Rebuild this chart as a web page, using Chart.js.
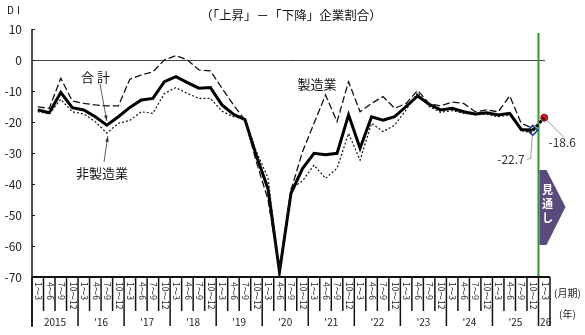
<!DOCTYPE html>
<html>
<head>
<meta charset="utf-8">
<script src="https://cdn.jsdelivr.net/npm/chart.js@4.4.0/dist/chart.umd.min.js"></script>
<style>
    html, body { margin: 0; padding: 0; background: #fff; }
    #wrap { width: 585px; height: 335px; }
</style>
</head>
<body>
<div id="wrap"><canvas id="chart" width="585" height="335"></canvas></div>
<script>
const quarterNames = ['1～3', '4～6', '7～9', '10～12'];
const yearLabels = ['2015', "'16", "'17", "'18", "'19", "'20", "'21", "'22", "'23", "'24", "'25", "'26"];
const yTicks = [10, 0, -10, -20, -30, -40, -50, -60, -70];

// 2015 1-3 .. 2025 10-12 (44 quarters)
const totalDI = [
    -16.1, -17.0, -10.5, -15.4,
    -16.1, -18.3, -21.0, -18.3,
    -15.3, -12.9, -12.4, -7.0,
    -5.4, -7.3, -9.1, -8.9,
    -14.5, -17.5, -19.2, -31.0,
    -41.5, -68.3, -43.0, -35.0,
    -30.1, -30.6, -30.1, -17.7,
    -28.5, -18.3, -19.4, -18.3,
    -15.0, -11.6, -14.3, -16.1,
    -15.6, -16.7, -17.4, -17.0,
    -17.7, -17.2, -22.4, -22.7
];
const mfgDI = [
    -15.1, -15.6, -5.9, -13.2,
    -14.0, -14.5, -14.8, -14.8,
    -6.2, -4.8, -3.8, 0.0,
    1.4, 0.0, -3.2, -3.5,
    -9.1, -14.5, -19.4, -33.0,
    -45.0, -67.5, -42.0, -29.6,
    -20.4, -11.3, -19.9, -7.0,
    -16.7, -14.0, -11.8, -15.6,
    -14.0, -9.8, -14.0, -14.8,
    -13.6, -14.0, -16.7, -16.1,
    -16.7, -11.6, -20.4, -22.0
];
const nonMfgDI = [
    -16.7, -17.4, -12.7, -16.7,
    -17.4, -19.9, -23.6, -20.4,
    -19.5, -16.7, -17.2, -10.8,
    -8.9, -10.8, -12.4, -12.4,
    -16.5, -18.3, -19.0, -29.6,
    -38.0, -68.0, -41.5, -39.0,
    -33.9, -38.2, -34.9, -23.7,
    -32.3, -20.4, -23.1, -21.0,
    -16.1, -10.5, -15.0, -16.9,
    -16.3, -17.2, -17.7, -17.5,
    -18.3, -17.7, -22.8, -23.5
];
// last actual (2025 10-12) and outlook (2026 1-3)
const outlookDI = [-22.7, -18.6];

const quarters = [];
for (let y = 0; y < 11; y++) quarterNames.forEach(q => quarters.push(q));
quarters.push(quarterNames[0]);

const pad = n => new Array(n).fill(null);
const outlookLine = pad(43).concat(outlookDI);
const lastPoint = pad(43).concat([outlookDI[0], null]);
const nextPoint = pad(44).concat([outlookDI[1]]);

const FONT = '"Noto Sans CJK JP", "Noto Sans", sans-serif';

// axes, ticks and notes drawn by hand
const decor = {
    id: 'decor',
    beforeDatasetsDraw(chart) {
        const { ctx, chartArea: a, scales: { x, y } } = chart;
        ctx.save();
        // zero line
        const y0 = Math.round(y.getPixelForValue(0)) + 0.5;
        ctx.strokeStyle = '#444';
        ctx.lineWidth = 1;
        ctx.beginPath();
        ctx.moveTo(a.left, y0);
        ctx.lineTo(a.right - 5, y0);
        ctx.stroke();
        // outlook separator
        const gx = (x.getPixelForValue(43) + x.getPixelForValue(44)) / 2;
        ctx.strokeStyle = '#2e9a2e';
        ctx.lineWidth = 2;
        ctx.beginPath();
        ctx.moveTo(gx, a.top + 4);
        ctx.lineTo(gx, a.bottom);
        ctx.stroke();
        ctx.restore();
    },
    afterDraw(chart) {
        const { ctx, chartArea: a, scales: { x, y } } = chart;
        ctx.save();
        ctx.strokeStyle = '#111';
        ctx.fillStyle = '#222';

        // left axis
        ctx.lineWidth = 1.5;
        ctx.beginPath();
        ctx.moveTo(a.left, a.top);
        ctx.lineTo(a.left, a.bottom + 50);
        ctx.stroke();
        // bottom axis
        ctx.lineWidth = 2;
        ctx.beginPath();
        ctx.moveTo(a.left, a.bottom);
        ctx.lineTo(a.right, a.bottom);
        ctx.stroke();

        // y ticks & labels
        ctx.lineWidth = 1;
        ctx.font = '12px ' + FONT;
        ctx.textAlign = 'right';
        ctx.textBaseline = 'middle';
        yTicks.forEach(v => {
            const py = Math.round(y.getPixelForValue(v)) + 0.5;
            ctx.beginPath();
            ctx.moveTo(a.left, py);
            ctx.lineTo(a.left + 3, py);
            ctx.stroke();
            ctx.fillText(String(v), a.left - 10, py);
        });

        // category boundaries
        const w = (x.getPixelForValue(1) - x.getPixelForValue(0));
        const n = quarters.length;
        ctx.lineWidth = 1.5;
        for (let k = 0; k <= n; k++) {
            const bx = x.getPixelForValue(0) - w / 2 + k * w;
            const longTick = (k % 4 === 0) || k === n;
            ctx.beginPath();
            ctx.moveTo(bx, a.bottom);
            ctx.lineTo(bx, longTick ? a.bottom + 49 : a.bottom + 34);
            ctx.stroke();
        }

        // quarter labels, read top to bottom
        ctx.font = '8.5px "Liberation Sans Narrow", ' + FONT;
        ctx.textAlign = 'left';
        ctx.textBaseline = 'middle';
        quarters.forEach((q, i) => {
            const px = x.getPixelForValue(i);
            ctx.save();
            ctx.translate(px + 0.5, a.bottom + 5);
            ctx.rotate(Math.PI / 2);
            ctx.fillText(q, 0, 0);
            ctx.restore();
        });

        // year labels
        ctx.font = '10px "Liberation Sans Narrow", ' + FONT;
        ctx.textAlign = 'center';
        yearLabels.forEach((yl, j) => {
            const first = x.getPixelForValue(j * 4) - w / 2;
            const span = Math.min(4, n - j * 4) * w;
            ctx.fillText(yl, first + span / 2, a.bottom + 45);
        });
        ctx.font = '10px ' + FONT;
        ctx.textAlign = 'left';
        ctx.fillText('(月期)', a.right + 4, a.bottom + 16);
        ctx.fillText('(年)', a.right + 9, a.bottom + 37);

        // title and unit
        ctx.font = '12.5px ' + FONT;
        ctx.textAlign = 'center';
        ctx.fillStyle = '#111';
        ctx.fillText('（「上昇」－「下降」企業割合）', 291, 15);
        ctx.font = '10px ' + FONT;
        ctx.letterSpacing = '3px';
        ctx.fillText('DI', 15, 10);

        // series notes
        ctx.font = '13px ' + FONT;
        ctx.fillText('合計', 97, 77);
        ctx.letterSpacing = '0px';
        ctx.fillText('非製造業', 102, 173);
        ctx.fillText('製造業', 317, 84);

        const arrow = (x1, y1, x2, y2) => {
            ctx.strokeStyle = '#333';
            ctx.lineWidth = 0.8;
            ctx.beginPath();
            ctx.moveTo(x1, y1);
            ctx.lineTo(x2, y2);
            ctx.stroke();
            const ang = Math.atan2(y2 - y1, x2 - x1);
            ctx.fillStyle = '#333';
            ctx.beginPath();
            ctx.moveTo(x2, y2);
            ctx.lineTo(x2 - 6 * Math.cos(ang - 0.3), y2 - 6 * Math.sin(ang - 0.3));
            ctx.lineTo(x2 - 6 * Math.cos(ang + 0.3), y2 - 6 * Math.sin(ang + 0.3));
            ctx.closePath();
            ctx.fill();
        };
        const p6x = x.getPixelForValue(6);
        arrow(100, 84, p6x, y.getPixelForValue(totalDI[6]) - 4);
        arrow(104, 162, p6x + 1, y.getPixelForValue(nonMfgDI[6]) + 3);

        // value callouts
        const lx = x.getPixelForValue(43), ly = y.getPixelForValue(outlookDI[0]);
        const rx = x.getPixelForValue(44), ry = y.getPixelForValue(outlookDI[1]);
        ctx.strokeStyle = '#999';
        ctx.lineWidth = 1;
        ctx.beginPath();
        ctx.moveTo(lx - 0.5, ly + 5);
        ctx.lineTo(lx - 2, ly + 28);
        ctx.lineTo(lx - 6, ly + 29);
        ctx.stroke();
        ctx.beginPath();
        ctx.moveTo(rx + 3, ry + 3);
        ctx.lineTo(rx + 20, ry + 20);
        ctx.stroke();
        ctx.fillStyle = '#333';
        ctx.font = '12px ' + FONT;
        ctx.textAlign = 'right';
        ctx.fillText(outlookDI[0].toFixed(1), lx - 8, ly + 29);
        ctx.textAlign = 'center';
        ctx.fillText(outlookDI[1].toFixed(1), rx + 18, ry + 25);

        // outlook arrow badge
        const gx = (x.getPixelForValue(43) + x.getPixelForValue(44)) / 2 + 1;
        ctx.fillStyle = '#5b4a7c';
        ctx.beginPath();
        ctx.moveTo(gx, 170);
        ctx.lineTo(gx + 7, 170);
        ctx.lineTo(gx + 26, 207);
        ctx.lineTo(gx + 7, 245);
        ctx.lineTo(gx, 245);
        ctx.closePath();
        ctx.fill();
        ctx.fillStyle = '#fff';
        ctx.font = 'bold 11px ' + FONT;
        ctx.textAlign = 'center';
        ['見', '通', 'し'].forEach((ch, i) => ctx.fillText(ch, gx + 8, 190 + i * 14));

        ctx.restore();
    }
};

new Chart(document.getElementById('chart'), {
    type: 'line',
    data: {
        labels: quarters,
        datasets: [
            {
                label: '製造業',
                data: mfgDI,
                borderColor: '#111',
                borderWidth: 1.3,
                borderDash: [7, 3],
                pointRadius: 0,
                tension: 0
            },
            {
                label: '非製造業',
                data: nonMfgDI,
                borderColor: '#111',
                borderWidth: 1.2,
                borderDash: [2, 2],
                pointRadius: 0,
                tension: 0
            },
            {
                label: '合計',
                data: totalDI,
                borderColor: '#000',
                borderWidth: 3,
                pointRadius: 0,
                tension: 0
            },
            {
                label: '見通し',
                data: outlookLine,
                borderColor: '#000',
                borderWidth: 3,
                borderDash: [3, 2],
                pointRadius: 0
            },
            {
                label: '2025 10-12',
                data: lastPoint,
                showLine: false,
                pointStyle: 'rectRot',
                pointRadius: 5,
                pointBackgroundColor: '#fff',
                pointBorderColor: '#1b3a8a',
                pointBorderWidth: 1.5
            },
            {
                label: '2026 1-3',
                data: nextPoint,
                showLine: false,
                pointStyle: 'circle',
                pointRadius: 3.5,
                pointBackgroundColor: '#e8141e',
                pointBorderColor: '#5a1a2a',
                pointBorderWidth: 1
            }
        ]
    },
    options: {
        responsive: false,
        animation: false,
        devicePixelRatio: 1,
        layout: { padding: { left: 32, right: 35, top: 29, bottom: 58 } },
        plugins: { legend: { display: false }, tooltip: { enabled: false } },
        scales: {
            x: { type: 'category', offset: true, display: false },
            y: { min: -70, max: 10, display: false }
        }
    },
    plugins: [decor]
});
</script>
</body>
</html>
